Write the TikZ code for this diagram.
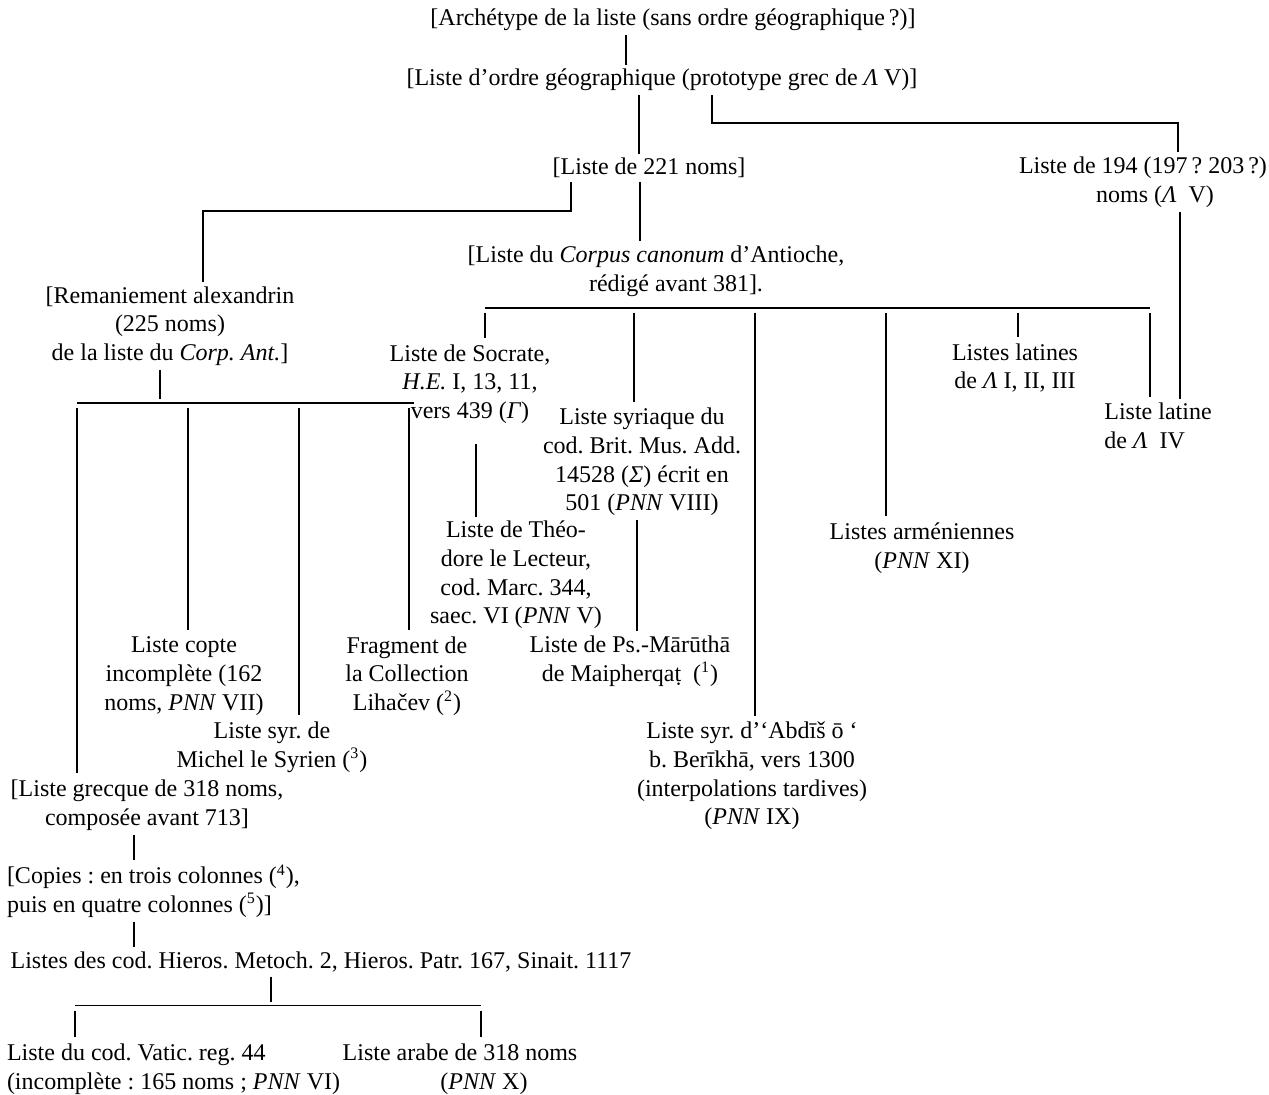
\documentclass[tikz,border=0pt]{standalone}
\usepackage{fontspec}
\setmainfont{Liberation Serif}
\usepackage{tikz}
\tikzstyle{lbl} = [align=center, inner sep=0pt, font=\fontsize{12}{14.35}\selectfont\frenchspacing]
\tikzstyle{line} = [line width=0.9pt, shorten <=2pt, shorten >=2pt]
\tikzstyle{drop} = [line width=0.9pt, shorten <=2.5pt, shorten >=3pt]
\tikzstyle{bar} = [line width=0.9pt]

\begin{document}
\begin{tikzpicture}[x=0.5pt, y=-0.5pt, node distance=30pt]
\useasboundingbox (0,0) rectangle (1269,1095);

\node (arch) [lbl] at (673,20) {[Archétype de la liste (sans ordre géographique\,?)]};
\node (geo) [lbl, below of=arch, xshift=-5.5pt] {[Liste d’ordre géographique (prototype grec de \textit{Λ} V)]};
\node (l221) [lbl, below of=geo, xshift=-6.5pt, yshift=-14pt] {[Liste de 221 noms]};
\node (l194) [lbl, right of=l221, xshift=217pt, yshift=-7pt] {Liste de 194 (197\,? 203\,?)\\\hspace*{12pt}noms (\textit{Λ} \ V)};
\node (corpus) [lbl, below of=l221, xshift=3.5pt, yshift=-21.5pt] {[Liste du \textit{Corpus canonum} d’Antioche,\\\hspace*{20pt}rédigé avant 381].};
\node (rem) [lbl, below of=l221, xshift=-239.5pt, yshift=-49pt] {[Remaniement alexandrin\\(225 noms)\\de la liste du \textit{Corp. Ant.}]};
\node (soc) [lbl, below of=corpus, xshift=-93pt, yshift=-26.5pt] {Liste de Socrate,\\\textit{H.E.} I, 13, 11,\\vers 439 (\textit{Γ})};
\node (syr) [lbl, below of=corpus, xshift=-7pt, yshift=-65.5pt] {Liste syriaque du\\cod. Brit. Mus. Add.\\14528 (\textit{Σ}) écrit en\\501 (\textit{PNN} VIII)};
\node (abd) [lbl, below of=syr, xshift=55pt, yshift=-127pt] {Liste syr. d’‘Abdīš ō ‘\\b. Berīkhā, vers 1300\\(interpolations tardives)\\(\textit{PNN} IX)};
\node (arm) [lbl, below of=corpus, xshift=133pt, yshift=-108.5pt] {Listes arméniennes\\(\textit{PNN} XI)};
\node (lat) [lbl, below of=corpus, xshift=179.5pt, yshift=-18.5pt] {Listes latines\\de \textit{Λ} I, II, III};
\node (lat4) [lbl, align=left, below of=l194, xshift=7.5pt, yshift=-92pt] {Liste latine\\de \textit{Λ} \ IV};
\node (theo) [lbl, below of=soc, xshift=23pt, yshift=-65.5pt] {Liste de Théo-\\dore le Lecteur,\\cod. Marc. 344,\\saec. VI (\textit{PNN} V)};
\node (mar) [lbl, below of=syr, xshift=-6pt, yshift=-69.5pt] {Liste de Ps.-Mārūthā\\de Maipherqaṭ \ (\textsuperscript{1})};
\node (cop) [lbl, below of=rem, xshift=7pt, yshift=-145pt] {Liste copte\\incomplète (162\\noms, \textit{PNN} VII)};
\node (mic) [lbl, below of=rem, xshift=51pt, yshift=-180.5pt] {Liste syr. de\\Michel le Syrien (\textsuperscript{3})};
\node (fra) [lbl, below of=rem, xshift=118.5pt, yshift=-145pt] {Fragment de\\la Collection\\Lihačev (\textsuperscript{2})};
\node (gre) [lbl, below of=rem, xshift=-11.5pt, yshift=-209.5pt] {[Liste grecque de 318 noms,\\composée avant 713]};
\node (copies) [lbl, align=flush left, text width=160pt, below of=gre, xshift=10pt, yshift=-13pt] {[Copies : en trois colonnes (\textsuperscript{4}),\\puis en quatre colonnes (\textsuperscript{5})]};
\node (hieros) [lbl, below of=copies, xshift=77pt, yshift=-5.5pt] {Listes des cod. Hieros. Metoch. 2, Hieros. Patr. 167, Sinait. 1117};
\node (vat) [lbl, align=flush left, text width=185pt, below of=hieros, xshift=-64.5pt, yshift=-23.5pt] {Liste du cod. Vatic. reg. 44\\(incomplète : 165 noms ; \textit{PNN} VI)};
\node (ara) [lbl, right of=vat, xshift=104pt] {Liste arabe de 318 noms\\\hspace*{24pt}(\textit{PNN} X)};

\draw [line] ([xshift=-23.5pt]arch.south) -- ([xshift=-23.5pt]arch.south |- geo.north);
\draw [line] ([xshift=-11.5pt]geo.south) -- ([xshift=-11.5pt]geo.south |- l221.north);
\draw [line] ([xshift=25pt]geo.south) -- ++(0,-16pt) -| ([xshift=17.5pt]l194.north);
\draw [line] ([xshift=-39pt]l221.south) -- ++(0,-16.5pt) -| ([xshift=16.5pt]rem.north);
\draw [line] ([xshift=-4.5pt]l221.south) -- ([xshift=-4.5pt]l221.south |- corpus.north);
\draw [line] ([xshift=18.5pt]l194.south) -- ([xshift=18.5pt]l194.south |- lat4.north);

% corpus of Antioch
\coordinate (cbar) at ([yshift=-5.5pt]corpus.south);
\draw [bar] ([xshift=7.5pt]soc.north |- cbar) -- ([xshift=-4pt]lat4.north |- cbar);
\draw [drop] ([xshift=7.5pt]soc.north |- cbar) -- ([xshift=7.5pt]soc.north);
\draw [drop] ([xshift=-4pt]syr.north |- cbar) -- ([xshift=-4pt]syr.north);
\draw [drop] ([xshift=1.5pt]abd.north |- cbar) -- ([xshift=1.5pt]abd.north);
\draw [drop] ([xshift=-18pt]arm.north |- cbar) -- ([xshift=-18pt]arm.north);
\draw [drop] ([xshift=1.5pt]lat.north |- cbar) -- ([xshift=1.5pt]lat.north);
\draw [drop] ([xshift=-4pt]lat4.north |- cbar) -- ([xshift=-4pt]lat4.north);
\draw [line, shorten <=10pt] ([xshift=3pt]soc.south) -- ([xshift=3pt]soc.south |- theo.north);
\draw [line] ([xshift=-2.5pt]syr.south) -- ([xshift=-2.5pt]syr.south |- mar.north);

% alexandrian branch
\coordinate (rbar) at ([yshift=-18.5pt]rem.south);
\draw [line] ([xshift=-5pt]rem.south) -- ([xshift=-5pt]rem.south |- rbar);
\draw [bar] ([xshift=-35pt]gre.north |- rbar) -- ([xshift=3.5pt]fra.north |- rbar);
\draw [drop] ([xshift=-35pt]gre.north |- rbar) -- ([xshift=-35pt]gre.north);
\draw [drop] ([xshift=2pt]cop.north |- rbar) -- ([xshift=2pt]cop.north);
\draw [drop] ([xshift=13.5pt]mic.north |- rbar) -- ([xshift=13.5pt]mic.north);
\draw [drop] ([xshift=1pt]fra.north |- rbar) -- ([xshift=1pt]fra.north);
\draw [line] ([xshift=-6.5pt]gre.south) -- ([xshift=-6.5pt]gre.south |- copies.north);
\draw [line] ([xshift=-16.5pt]copies.south) -- ([xshift=-16.5pt]copies.south |- hieros.north);

\coordinate (hbar) at ([yshift=-16.5pt]hieros.south);
\draw [line] ([xshift=-25pt]hieros.south) -- ([xshift=-25pt]hieros.south |- hbar);
\draw [bar] ([xshift=-58.5pt]vat.north |- hbar) -- ([xshift=10.5pt]ara.north |- hbar);
\draw [drop] ([xshift=-58.5pt]vat.north |- hbar) -- ([xshift=-58.5pt]vat.north);
\draw [drop] ([xshift=10.5pt]ara.north |- hbar) -- ([xshift=10.5pt]ara.north);

\end{tikzpicture}
\end{document}
